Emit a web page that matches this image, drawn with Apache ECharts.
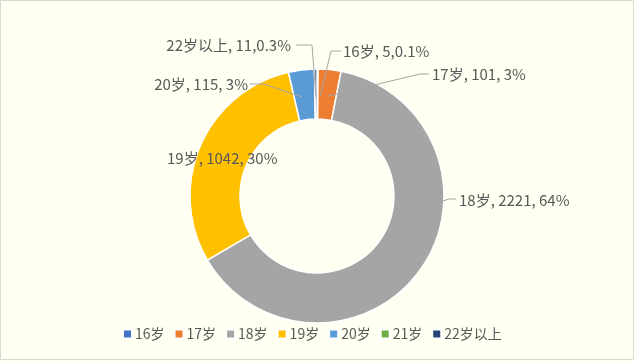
<!DOCTYPE html>
<html><head><meta charset="utf-8">
<script src="https://cdn.jsdelivr.net/npm/echarts@6/dist/echarts.min.js"></script>
<style>html,body{margin:0;padding:0;background:#fff}#c{width:635px;height:362px}</style>
</head><body><div id="c"></div>
<script>
var categories = ['16岁','17岁','18岁','19岁','20岁','21岁','22岁以上'];
var values = [5, 101, 2221, 1042, 115, 0, 11];
var pctLabels = ['0.1%','3%','64%','30%','3%','0%','0.3%'];
var sepLabels = [',', ', ', ', ', ', ', ', ', ', ', ','];
var colors = ['#4472C4','#ED7D31','#A5A5A5','#FFC000','#5B9BD5','#70AD47','#264478'];

var labelPos = {
  '16岁': {x: 343, y: 51, line: [[341,51],[331,51],[320,97]]},
  '17岁': {x: 432, y: 74, line: [[429,74],[420,74],[328,96]]},
  '18岁': {x: 459, y: 200, line: [[456,199],[449,199],[443,201]]},
  '19岁': {x: 167, y: 158, line: null},
  '20岁': {x: 248, y: 84, align: 'right', line: [[250,84],[264,84],[302,97]]},
  '21岁': {x: -100, y: -100, line: null},
  '22岁以上': {x: 291, y: 45, align: 'right', line: [[296,45],[312,45],[316,97]]}
};

var lines = [];
categories.forEach(function(c, i){
  var lp = labelPos[c];
  if (lp.line && values[i] > 0) {
    lines.push({type:'polyline', z: 100, shape:{points: lp.line}, style:{fill:'none', stroke:'#A6A6A6', lineWidth:1}});
  }
});

var chart = echarts.init(document.getElementById('c'));
var data = categories.map(function(c,i){
  return {name: c, value: values[i], itemStyle: {color: colors[i]},
    label: {show: values[i] > 0}};
});
chart.setOption({
  backgroundColor: '#FFFFF2',
  animation: false,
  graphic: [{type:'rect', shape:{x:0.5,y:0.5,width:633,height:359}, style:{fill:'none', stroke:'#D9D9D9', lineWidth:1}}].concat(lines),
  legend: {
    bottom: 16, left: 117,
    itemWidth: 9, itemHeight: 9, itemGap: 9,
    icon: 'rect',
    textStyle: {fontFamily: '"Noto Sans CJK SC", sans-serif', fontSize: 14, color: '#595959', padding:[0,0,0,-2]},
    data: categories
  },
  series: [{
    type: 'pie',
    center: [317, 196],
    radius: [77, 127],
    startAngle: 90,
    clockwise: true,
    avoidLabelOverlap: false,
    itemStyle: {borderColor: '#fff', borderWidth: 1.5},
    label: {
      show: true,
      position: 'outside',
      fontFamily: '"Noto Sans CJK SC", sans-serif',
      fontSize: 15,
      color: '#595959',
      formatter: function(p){ return p.name + ', ' + p.value + sepLabels[p.dataIndex] + pctLabels[p.dataIndex]; }
    },
    labelLine: {show: false},
    labelLayout: function(params){
      var name = categories[params.dataIndex];
      var lp = labelPos[name];
      return {x: lp.x, y: lp.y, align: lp.align || 'left', verticalAlign: 'middle'};
    },
    data: data
  }]
});
</script></body></html>
